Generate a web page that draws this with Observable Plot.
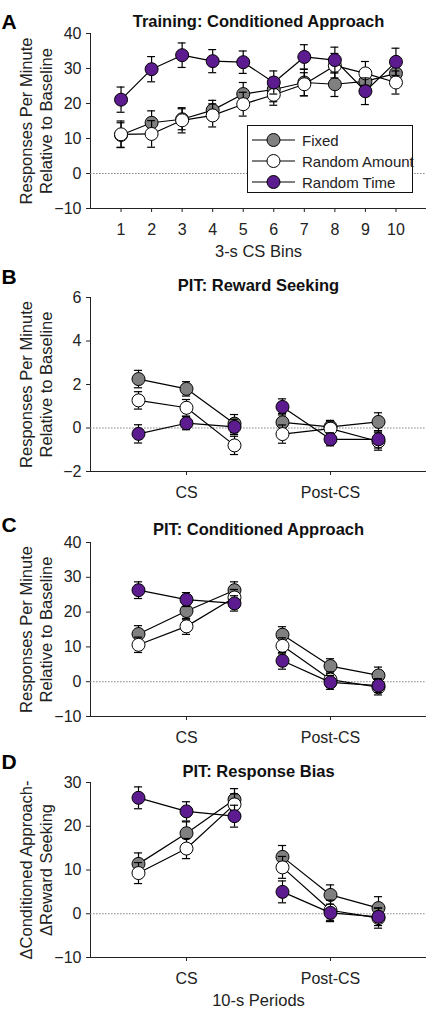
<!DOCTYPE html>
<html><head><meta charset="utf-8">
<script src="https://cdn.jsdelivr.net/npm/d3@7"></script>
<script src="https://cdn.jsdelivr.net/npm/@observablehq/plot@0.6"></script>
<style>
body{margin:0;background:#fff;font-family:"Liberation Sans",Arial,sans-serif;}
#root{position:relative;width:426px;height:1010px;overflow:hidden;background:#fff;}
.panel{position:absolute;left:0;}
.panel svg{overflow:visible;}
.legend{position:absolute;left:247px;top:125px;width:164px;height:66px;border:1.5px solid #111;background:#fff;font-size:15px;color:#222;}
.legend .row{position:absolute;left:0;height:20px;display:flex;align-items:center;}
.legend svg{display:block;}
.legend span{margin-left:4px;white-space:nowrap;}
</style></head><body><div id="root"></div>
<script>
// ---------- data ----------
const seriesNames = ["Fixed", "Random Amount", "Random Time"];
const seriesColors = ["#808080", "#ffffff", "#5c1b8f"];

// Panel A: Training, 3-s CS bins
const binsA = [1, 2, 3, 4, 5, 6, 7, 8, 9, 10];
const fixedA = [11.0, 14.5, 15.5, 18.1, 22.7, 24.0, 26.0, 25.5, 26.3, 28.6];
const fixedA_se = [3.5, 3.4, 3.0, 2.8, 3.3, 3.5, 3.8, 3.5, 3.3, 3.5];
const randAmtA = [11.2, 11.3, 15.2, 16.6, 19.8, 22.5, 25.5, 30.8, 28.6, 26.0];
const randAmtA_se = [3.8, 3.8, 3.6, 3.3, 3.4, 3.0, 3.3, 3.5, 3.4, 3.3];
const randTimeA = [21.1, 29.8, 33.8, 32.1, 31.8, 26.0, 33.3, 32.4, 23.5, 31.9];
const randTimeA_se = [3.6, 3.6, 3.5, 3.3, 3.2, 3.3, 3.5, 3.7, 3.8, 3.9];

// Panels B-D: 10-s periods (3 CS points, 3 Post-CS points)
const periodPos = [1, 2, 3, 4, 5, 6];
const periodGroup = ["CS", "CS", "CS", "Post-CS", "Post-CS", "Post-CS"];
const periodTicks = [2, 5];
const periodTickLabels = ["CS", "Post-CS"];

const fixedB = [2.25, 1.80, 0.20, 0.26, 0.05, 0.28];
const fixedB_se = [0.40, 0.33, 0.42, 0.40, 0.30, 0.42];
const randAmtB = [1.27, 0.93, -0.80, -0.28, -0.03, -0.62];
const randAmtB_se = [0.40, 0.38, 0.42, 0.42, 0.35, 0.40];
const randTimeB = [-0.27, 0.22, 0.05, 0.97, -0.52, -0.52];
const randTimeB_se = [0.42, 0.30, 0.35, 0.37, 0.30, 0.40];

const fixedC = [13.7, 20.3, 26.3, 13.5, 4.5, 1.8];
const fixedC_se = [2.4, 2.5, 2.4, 2.3, 2.1, 2.4];
const randAmtC = [10.6, 15.9, 24.2, 10.3, 0.6, -1.6];
const randAmtC_se = [2.2, 2.3, 2.3, 2.3, 2.2, 2.2];
const randTimeC = [26.3, 23.6, 22.5, 6.0, -0.2, -1.1];
const randTimeC_se = [2.4, 2.0, 2.2, 2.4, 2.0, 2.0];

const fixedD = [11.4, 18.4, 26.1, 13.0, 4.3, 1.3];
const fixedD_se = [2.5, 2.6, 2.5, 2.6, 2.3, 2.6];
const randAmtD = [9.3, 14.9, 25.0, 10.6, 0.8, -1.0];
const randAmtD_se = [2.4, 2.3, 2.4, 2.5, 2.3, 2.3];
const randTimeD = [26.5, 23.4, 22.3, 5.0, 0.2, -0.7];
const randTimeD_se = [2.5, 2.2, 2.5, 2.5, 2.0, 2.0];

// ---------- helpers ----------
function rows(xs, groups, vals, ses, si) {
  return xs.map((x, i) => ({x, g: groups ? groups[i] : "all", y: vals[i], se: ses[i], s: si}));
}

function panel(cfg) {
  const marks = [
    Plot.ruleY([0], {stroke: "#8a8a8a", strokeWidth: 1.1, strokeDasharray: "1.6,1.4"})
  ];
  cfg.series.forEach((data, si) => {
    const cap = cfg.cap;
    marks.push(
      Plot.ruleX(data, {x: "x", y1: d => d.y - d.se, y2: d => d.y + d.se, stroke: "#000", strokeWidth: 1.2}),
      Plot.ruleY(data, {y: d => d.y + d.se, x1: d => d.x - cap, x2: d => d.x + cap, stroke: "#000", strokeWidth: 1.2}),
      Plot.ruleY(data, {y: d => d.y - d.se, x1: d => d.x - cap, x2: d => d.x + cap, stroke: "#000", strokeWidth: 1.2}),
      Plot.line(data, {x: "x", y: "y", z: "g", stroke: "#000", strokeWidth: 1.2}),
      Plot.dot(data, {x: "x", y: "y", r: 6.5, fill: seriesColors[si], stroke: "#000", strokeWidth: 1})
    );
  });
  marks.push(
    Plot.text([cfg.title], {frameAnchor: "top", lineAnchor: "middle", dy: cfg.titleDy, fontWeight: "bold", fontSize: 16.5, fill: "#111"}),
    Plot.text([cfg.letter], {frameAnchor: "top-left", lineAnchor: "middle", dx: -89, dy: cfg.letterDy, textAnchor: "start", fontWeight: "bold", fontSize: 21, fill: "#000"}),
    Plot.text([cfg.ylabel], {frameAnchor: "left", textAnchor: "middle", lineAnchor: "middle", rotate: -90, dx: -55, fontSize: 16.5, lineHeight: 1.21, fill: "#222"})
  );
  if (cfg.xlabel) marks.push(Plot.text([cfg.xlabel], {frameAnchor: "bottom", lineAnchor: "middle", dy: 43, fontSize: 16.5, fill: "#222"}));
  const svg = Plot.plot({
    width: 426,
    height: cfg.height,
    marginLeft: 90, marginRight: 0, marginTop: cfg.mt, marginBottom: cfg.mb,
    style: {fontFamily: "'Liberation Sans', Arial, sans-serif", fontSize: "16px", color: "#222", background: "transparent", overflow: "visible"},
    x: {domain: cfg.xDomain, ticks: cfg.xTicks, tickFormat: cfg.xTickFormat, tickSize: 4, tickPadding: 11.5, line: true, label: null},
    y: {domain: cfg.yDomain, ticks: cfg.yTicks, tickSize: 4, tickPadding: 5, line: true, label: null},
    marks
  });
  const div = document.createElement("div");
  div.className = "panel";
  div.style.top = cfg.top + "px";
  div.appendChild(svg);
  document.getElementById("root").appendChild(div);
}

const periodFmt = d => periodTickLabels[periodTicks.indexOf(d)];

panel({
  top: 0, height: 260, mt: 33, mb: 52, letter: "A", letterDy: -11, titleDy: -12,
  title: "Training: Conditioned Approach",
  ylabel: "Responses Per Minute\nRelative to Baseline",
  xlabel: "3-s CS Bins",
  xDomain: [0, 11], xTicks: binsA, xTickFormat: d => String(d),
  yDomain: [-10, 40], yTicks: [-10, 0, 10, 20, 30, 40], cap: 0.13,
  series: [rows(binsA, null, fixedA, fixedA_se, 0), rows(binsA, null, randAmtA, randAmtA_se, 1), rows(binsA, null, randTimeA, randTimeA_se, 2)]
});
panel({
  top: 260, height: 241, mt: 37, mb: 30, letter: "B", letterDy: -20, titleDy: -11.5,
  title: "PIT: Reward Seeking",
  ylabel: "Responses Per Minute\nRelative to Baseline",
  xDomain: [0, 7], xTicks: periodTicks, xTickFormat: periodFmt,
  yDomain: [-2, 6], yTicks: [-2, 0, 2, 4, 6], cap: 0.085,
  series: [rows(periodPos, periodGroup, fixedB, fixedB_se, 0), rows(periodPos, periodGroup, randAmtB, randAmtB_se, 1), rows(periodPos, periodGroup, randTimeB, randTimeB_se, 2)]
});
panel({
  top: 501, height: 240, mt: 41, mb: 25, letter: "C", letterDy: -17, titleDy: -12.5,
  title: "PIT: Conditioned Approach",
  ylabel: "Responses Per Minute\nRelative to Baseline",
  xDomain: [0, 7], xTicks: periodTicks, xTickFormat: periodFmt,
  yDomain: [-10, 40], yTicks: [-10, 0, 10, 20, 30, 40], cap: 0.085,
  series: [rows(periodPos, periodGroup, fixedC, fixedC_se, 0), rows(periodPos, periodGroup, randAmtC, randAmtC_se, 1), rows(periodPos, periodGroup, randTimeC, randTimeC_se, 2)]
});
panel({
  top: 741, height: 269, mt: 41, mb: 53, letter: "D", letterDy: -20.5, titleDy: -11,
  title: "PIT: Response Bias",
  ylabel: "\u0394Conditioned Approach-\n\u0394Reward Seeking",
  xlabel: "10-s Periods",
  xDomain: [0, 7], xTicks: periodTicks, xTickFormat: periodFmt,
  yDomain: [-10, 30], yTicks: [-10, 0, 10, 20, 30], cap: 0.085,
  series: [rows(periodPos, periodGroup, fixedD, fixedD_se, 0), rows(periodPos, periodGroup, randAmtD, randAmtD_se, 1), rows(periodPos, periodGroup, randTimeD, randTimeD_se, 2)]
});

// legend (HTML) for panel A
const legend = document.createElement("div");
legend.className = "legend";
seriesNames.forEach((name, i) => {
  const row = document.createElement("div");
  row.className = "row";
  row.style.top = (4 + i * 21) + "px";
  row.innerHTML = `<svg width="50" height="20"><line x1="4" y1="10" x2="47" y2="10" stroke="#000" stroke-width="1.2"/><circle cx="25.5" cy="10" r="6.5" fill="${seriesColors[i]}" stroke="#000" stroke-width="1"/></svg><span>${name}</span>`;
  legend.appendChild(row);
});
document.getElementById("root").appendChild(legend);
</script>
</body></html>
